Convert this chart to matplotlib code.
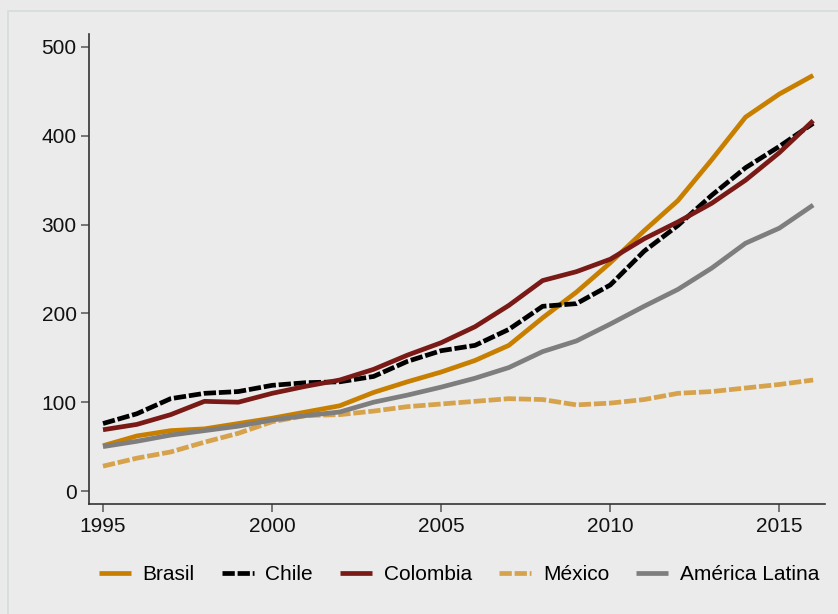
import matplotlib.pyplot as plt
from matplotlib.patches import Rectangle

plt.rcParams['font.family'] = ['Liberation Sans', 'DejaVu Sans']

years = list(range(1995, 2017))

brasil = [51, 62, 68, 70, 76, 82, 89, 96, 111, 123, 134, 147, 164, 195, 224, 257, 293, 327, 373, 421, 447, 468]
chile = [76, 87, 104, 110, 112, 119, 122, 123, 129, 146, 158, 164, 182, 208, 211, 232, 270, 299, 333, 364, 388, 414]
colombia = [69, 75, 86, 101, 100, 110, 118, 125, 137, 153, 167, 185, 209, 237, 247, 261, 284, 303, 324, 350, 381, 417]
mexico = [28, 37, 44, 55, 65, 78, 85, 86, 90, 95, 98, 101, 104, 103, 97, 99, 103, 110, 112, 116, 120, 125]
latam = [50, 56, 63, 68, 73, 80, 85, 89, 100, 108, 117, 127, 139, 157, 169, 188, 208, 227, 251, 279, 296, 322]

series = [
    ("Brasil", brasil, "#C87F00", "solid"),
    ("Chile", chile, "#000000", (0, (2.6, 0.6))),
    ("Colombia", colombia, "#7A1A16", "solid"),
    ("México", mexico, "#D6A24C", (0, (2.6, 0.6))),
    ("América Latina", latam, "#7E7E7E", "solid"),
]

bg = "#EAEAEA"
fig = plt.figure(figsize=(8.38, 6.14), dpi=100, facecolor=bg)
fig.patches.append(Rectangle((8 / 838, -0.1), 1.2, 1 - 11 / 614 + 0.1, transform=fig.transFigure,
                             facecolor="#EBEBEB", edgecolor="#D5DCDC", linewidth=1.2, zorder=-10))

ax = fig.add_axes([89 / 838, 110 / 614, 736 / 838, 470 / 614])
ax.set_zorder(2)
ax.set_facecolor("none")

for name, vals, color, ls in series:
    ax.plot(years, vals, color=color, linestyle=ls, linewidth=3.4, label=name,
            solid_capstyle="butt", dash_capstyle="butt")

ax.set_xlim(1994.586, 2016.35)
ax.set_ylim(-14.6, 514.6)
ax.set_xticks([1995, 2000, 2005, 2010, 2015])
ax.set_yticks([0, 100, 200, 300, 400, 500])

for s in ["top", "right"]:
    ax.spines[s].set_visible(False)
for s in ["left", "bottom"]:
    ax.spines[s].set_color("#333333")
    ax.spines[s].set_linewidth(1.2)
ax.tick_params(axis="both", direction="out", length=6, width=1.1, color="#555555",
               labelsize=15, labelcolor="#111111", pad=3)

leg = fig.legend(loc="center", bbox_to_anchor=(459 / 838, 1 - 575 / 614), ncol=5, frameon=False,
                 fontsize=15, handlelength=1.55, handletextpad=0.55, columnspacing=1.3,
                 borderaxespad=0)
leg.set_zorder(3)

fig.savefig("out.png", dpi=100, facecolor=bg)
